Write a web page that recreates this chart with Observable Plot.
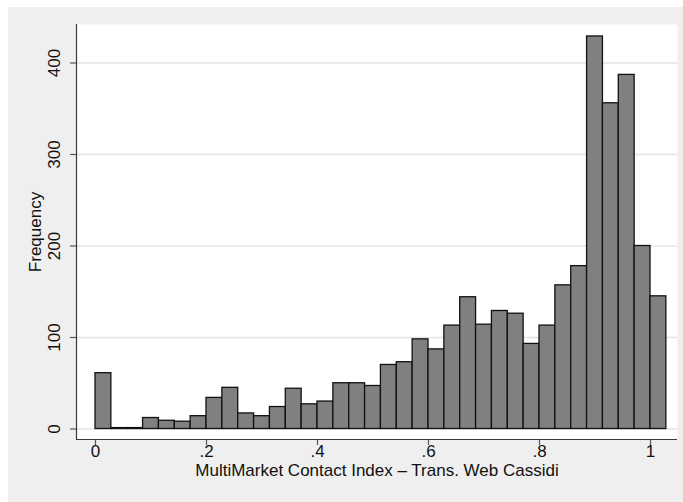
<!DOCTYPE html>
<html>
<head>
<meta charset="utf-8">
<script src="https://cdn.jsdelivr.net/npm/d3@7"></script>
<script src="https://cdn.jsdelivr.net/npm/@observablehq/plot@0.6"></script>
<style>
  html, body { margin: 0; padding: 0; background: #ffffff; }
  #chart { position: absolute; left: 8px; top: 7px; }
  #chart svg { display: block; background: #efefef; }
</style>
</head>
<body>
<div id="chart"></div>
<script>
// ---- data ----
const binWidth = 1 / 35;            // bin width on the x axis
const binStart = 0;                 // first bin's left edge
const counts = [61, 1, 1, 12, 9, 8, 14, 34, 45, 17, 14, 24, 44, 27, 30, 50, 50, 47,
                70, 73, 98, 87, 113, 144, 114, 129, 126, 93, 113, 157, 178, 429, 356, 387, 200, 145];
const xTicks = [0, 0.2, 0.4, 0.6, 0.8, 1];
const xTickLabels = ["0", ".2", ".4", ".6", ".8", "1"];
const yTicks = [0, 100, 200, 300, 400];
const yTickLabels = ["0", "100", "200", "300", "400"];
const xTitle = "MultiMarket Contact Index \u2013 Trans. Web Cassidi";
const yTitle = "Frequency";

const bins = counts.map((c, i) => ({
  x1: binStart + i * binWidth,
  x2: binStart + (i + 1) * binWidth,
  count: c
}));

const W = 675, H = 495;
const font = "'Liberation Sans', Arial, Helvetica, sans-serif";

const axisLines = (index, scales, values, dims) => {
  const g = d3.create("svg:g");
  const left = dims.marginLeft, bottom = dims.height - dims.marginBottom;
  g.append("line").attr("x1", left + 0.5).attr("x2", left + 0.5)
    .attr("y1", dims.marginTop).attr("y2", bottom + 0.5)
    .attr("stroke", "#3a3a3a").attr("stroke-width", 1.2);
  g.append("line").attr("x1", left).attr("x2", dims.width - dims.marginRight)
    .attr("y1", bottom + 0.5).attr("y2", bottom + 0.5)
    .attr("stroke", "#3a3a3a").attr("stroke-width", 1.2);
  return g.node();
};

const chart = Plot.plot({
  width: W,
  height: H,
  marginLeft: 68,
  marginRight: 6,
  marginTop: 17,
  marginBottom: 63,
  style: { fontFamily: font, fontSize: "17px", background: "#efefef", overflow: "visible" },
  x: { domain: [0, 1], range: [87, 642], axis: null },
  y: { domain: [0, 400], range: [421.5, 55.5], axis: null },
  marks: [
    Plot.frame({ fill: "white", stroke: "none" }),
    Plot.ruleY(yTicks, { stroke: "#e4e4e4", strokeWidth: 1.3 }),
    Plot.rectY(bins, { x1: "x1", x2: "x2", y: "count", fill: "#808080", stroke: "#111111", strokeWidth: 1.3, inset: 0 }),
    Plot.axisY(yTicks, { tickSize: 6, fill: "none", label: null, stroke: "#555555", strokeWidth: 1.2 }),
    Plot.axisX(xTicks, { tickSize: 6, fill: "none", label: null, stroke: "#555555", strokeWidth: 1.2 }),
    axisLines,
    Plot.text(yTicks, { y: d => d, text: (d, i) => yTickLabels[i], frameAnchor: "left", textAnchor: "middle", dx: -22, rotate: -90, fontSize: 17, fill: "#111" }),
    Plot.text(xTicks, { x: d => d, text: (d, i) => xTickLabels[i], frameAnchor: "bottom", textAnchor: "middle", dy: 17, fontSize: 17, fill: "#111" }),
    Plot.text([xTitle], { text: d => d, frameAnchor: "bottom", textAnchor: "middle", dy: 36.5, fontSize: 17, fill: "#111" }),
    Plot.text([yTitle], { text: d => d, frameAnchor: "left", textAnchor: "middle", dx: -41, rotate: -90, fontSize: 17, fill: "#111" })
  ]
});
document.getElementById("chart").appendChild(chart);
</script>
</body>
</html>
